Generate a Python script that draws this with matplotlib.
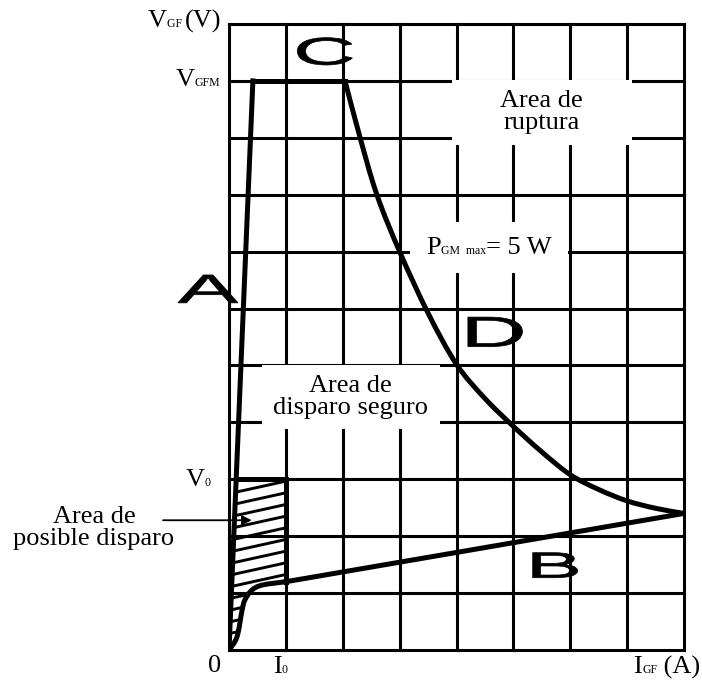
import matplotlib
matplotlib.use('Agg')
import matplotlib.pyplot as plt
import numpy as np
from matplotlib.patches import Rectangle, PathPatch, Polygon
from matplotlib.path import Path
from matplotlib.textpath import TextPath
from matplotlib.font_manager import FontProperties
from matplotlib.transforms import Affine2D
from matplotlib.offsetbox import TextArea, HPacker, AnnotationBbox

# ---------------- data (grid units) ----------------
grid_x = [0, 1, 2, 3, 4, 5, 6, 7, 8]
grid_y = [0, 1, 2, 3, 4, 5, 6, 7, 8, 9, 10, 11]
I0 = 1.0
V0 = 3.0
VGFM = 10.0

# curve A (steep rise) and C (V_GFM limit)
A_x = [0.0, 0.42]
A_y = [0.0, 10.0]
C_x = [0.42, 2.04]
C_y = [10.0, 10.0]

# curve D (max power hyperbola)
D_x = [2.04, 2.30, 2.60, 3.00, 3.50, 4.00, 4.50, 5.00, 5.50, 6.00, 6.50, 7.00, 7.50, 8.00]
D_y = [10.0, 9.02, 8.00, 7.00, 5.92, 5.02, 4.42, 3.93, 3.48, 3.08, 2.82, 2.62, 2.49, 2.40]

# curve B (minimum gate characteristic)
B_x = [0.0, 0.14, 0.23, 0.28, 0.40, 0.58, 1.00, 8.00]
B_y = [0.0, 0.23, 0.70, 0.88, 1.05, 1.14, 1.20, 2.40]

# ---------------- figure ----------------
W, H = 702, 682
fig = plt.figure(figsize=(W / 100, H / 100), dpi=100)
L, R, T, BOT = 229, 684, 24, 650
ax = fig.add_axes([L / W, (H - BOT) / H, (R - L) / W, (BOT - T) / H])
ax.set_xlim(grid_x[0], grid_x[-1])
ax.set_ylim(grid_y[0], grid_y[-1])
ax.axis('off')

SERIF = 'Liberation Serif'
FS = 19
GRID_LW = 2.2
CURVE_LW = 3.6

# grid
for gx in grid_x:
    ax.plot([gx, gx], [grid_y[0], grid_y[-1]], color='black', lw=GRID_LW,
            solid_capstyle='projecting', clip_on=False, zorder=1)
for gy in grid_y:
    ax.plot([grid_x[0], grid_x[-1]], [gy, gy], color='black', lw=GRID_LW,
            solid_capstyle='projecting', clip_on=False, zorder=1)

# white label backgrounds (interrupt grid)
for (x0, x1, y0, y1) in [(0.58, 3.71, 3.88, 5.01), (3.92, 7.08, 8.87, 10.02), (3.18, 5.96, 6.63, 7.52)]:
    ax.add_patch(Rectangle((x0, y0), x1 - x0, y1 - y0, facecolor='white',
                           edgecolor='none', zorder=2))

# hatched "possible triggering" region
a_at_v0 = float(np.interp(V0, A_y, A_x))
b_at_i0 = float(np.interp(I0, B_x, B_y))
low = [(bx, by) for bx, by in zip(B_x, B_y) if bx <= I0]
poly_pts = [(A_x[0], A_y[0]), (a_at_v0, V0), (I0, V0)] + low[::-1]
clip_poly = Polygon(poly_pts, closed=True, facecolor='none', edgecolor='none',
                    transform=ax.transData)
ax.add_patch(clip_poly)
slope = 0.22
for y0 in np.arange(-0.35, V0 + 0.1, 0.205):
    ln, = ax.plot([-0.1, I0 + 0.2], [y0, y0 + slope * (I0 + 0.3)], color='black',
                  lw=2.1, zorder=3)
    ln.set_clip_path(clip_poly)


def smooth_path(xs, ys):
    """Cubic Bezier path passing through the given read points (Catmull-Rom)."""
    P = np.column_stack([xs, ys])
    n = len(P)
    verts = [P[0]]
    codes = [Path.MOVETO]
    for i in range(n - 1):
        p0 = P[i - 1] if i > 0 else P[i]
        p1, p2 = P[i], P[i + 1]
        p3 = P[i + 2] if i + 2 < n else P[i + 1]
        c1 = p1 + (p2 - p0) / 6.0
        c2 = p2 - (p3 - p1) / 6.0
        verts += [c1, c2, p2]
        codes += [Path.CURVE4] * 3
    return Path(verts, codes)


# curves
ax.plot(A_x, A_y, color='black', lw=CURVE_LW, zorder=4, solid_joinstyle='miter')
ax.plot(C_x, C_y, color='black', lw=CURVE_LW, zorder=4, solid_capstyle='projecting')
ax.add_patch(PathPatch(smooth_path(D_x, D_y), facecolor='none', edgecolor='black',
                       lw=CURVE_LW, zorder=4))
ax.add_patch(PathPatch(smooth_path(B_x[:-1], B_y[:-1]), facecolor='none',
                       edgecolor='black', lw=CURVE_LW, zorder=4))
ax.plot(B_x[-2:], B_y[-2:], color='black', lw=CURVE_LW, zorder=4)
ax.plot([a_at_v0, I0, I0], [V0, V0, b_at_i0], color='black', lw=CURVE_LW, zorder=4,
        solid_joinstyle='miter')


# big stretched letters
def big_letter(ch, x0, x1, y0, y1):
    tp = TextPath((0, 0), ch, size=1, prop=FontProperties(family='Liberation Sans'))
    ext = tp.get_extents()
    tr = (Affine2D().translate(-ext.x0, -ext.y0)
          .scale((x1 - x0) / ext.width, (y1 - y0) / ext.height)
          .translate(x0, y0))
    patch = PathPatch(tr.transform_path(tp), facecolor='black', edgecolor='black',
                      lw=0.5, transform=ax.transData, clip_on=False, zorder=6)
    ax.add_patch(patch)


big_letter('A', -0.90, 0.16, 6.10, 6.59)
big_letter('C', 1.20, 2.17, 10.28, 10.76)
big_letter('D', 4.20, 5.16, 5.33, 5.85)
big_letter('B', 5.34, 6.13, 1.27, 1.71)


# mixed-size labels
def mixed(parts, xy, coords):
    areas = [TextArea(s, textprops=dict(family=SERIF, size=sz, color='black'))
             for s, sz in parts]
    box = HPacker(children=areas, align='baseline', pad=0, sep=0)
    ab = AnnotationBbox(box, xy, xycoords=coords, frameon=False,
                        box_alignment=(0.5, 0.5), pad=0, annotation_clip=False,
                        zorder=7)
    ax.add_artist(ab)


def px(x, y):
    return (x, H - y)


mixed([('V', FS), ('GF ', 8.5), ('(V)', FS)], px(185, 21), 'figure pixels')
mixed([('V', FS), ('GFM', 8.5)], px(198, 80), 'figure pixels')
mixed([('V', FS), ('0', 8.5)], px(198, 480), 'figure pixels')
mixed([('0', FS)], px(215, 666), 'figure pixels')
mixed([('I', FS), ('0', 8.5)], px(280, 667), 'figure pixels')
mixed([('I', FS), ('GF', 8.5), (' (A)', FS)], px(667, 667), 'figure pixels')
mixed([('P', FS), ('GM  max', 8.5), ('= 5 W', FS)], (4.57, 7.07), 'data')

ax.text(2.14, 4.45, 'Area de\ndisparo seguro', family=SERIF, size=FS,
        ha='center', va='center', linespacing=1.0, zorder=7)
ax.text(5.50, 9.45, 'Area de\nruptura', family=SERIF, size=FS,
        ha='center', va='center', linespacing=1.0, zorder=7)
fig.text(94 / W, 1 - 528 / H, 'Area de\nposible disparo', family=SERIF, size=FS,
         ha='center', va='center', linespacing=1.0)

ax.annotate('', xy=(0.40, 2.28), xytext=(-1.16, 2.28),
            arrowprops=dict(arrowstyle='-|>', lw=1.3, color='black', mutation_scale=14,
                            shrinkA=0, shrinkB=0),
            annotation_clip=False, zorder=8)

fig.savefig('out.png', dpi=100, facecolor='white')
